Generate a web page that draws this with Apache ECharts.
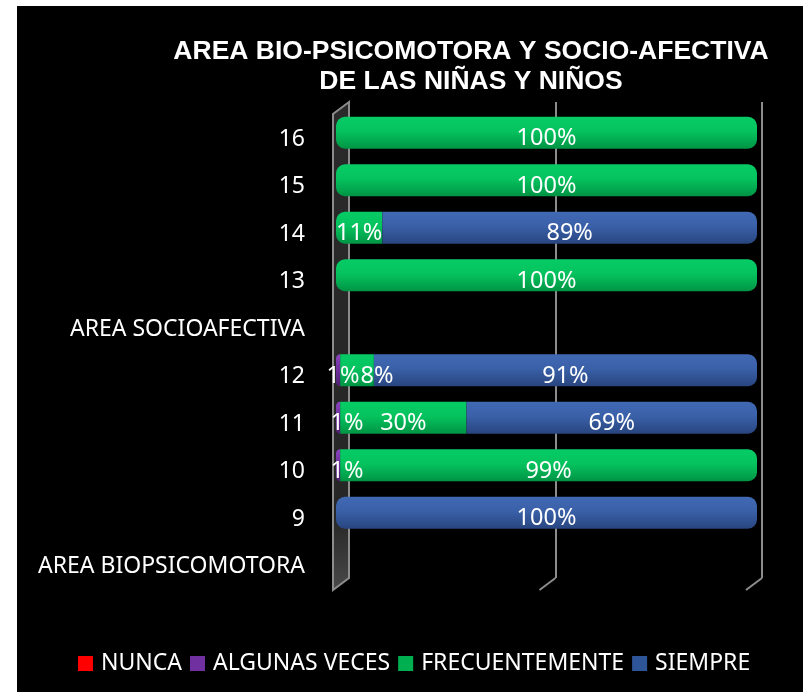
<!DOCTYPE html>
<html>
<head>
<meta charset="utf-8">
<script src="https://cdn.jsdelivr.net/npm/echarts@6/dist/echarts.min.js"></script>
<style>
  html, body { margin: 0; padding: 0; background: #fff; }
  #chart { position: absolute; left: 17px; top: 6px; width: 786px; height: 686px; background: #000; }
</style>
</head>
<body>
<div id="chart"></div>
<script>
// categories bottom -> top
const categories = ["AREA BIOPSICOMOTORA", "9", "10", "11", "12", "AREA SOCIOAFECTIVA", "13", "14", "15", "16"];
const nunca = [null, 0, 0, 0, 0, null, 0, 0, 0, 0];
const algunasVeces = [null, 0, 1, 1, 1, null, 0, 0, 0, 0];
const frecuentemente = [null, 0, 99, 30, 8, null, 100, 11, 100, 100];
const siempre = [null, 100, 0, 69, 91, null, 0, 89, 0, 0];
const xTicks = [0, 50, 100];

const seriesDefs = [
  { name: "NUNCA", data: nunca, legend: "#ff0000", top: "#ff3030", mid: "#ff0000", bot: "#b00000" },
  { name: "ALGUNAS VECES", data: algunasVeces, legend: "#7030a0", top: "#8a44be", mid: "#7030a0", bot: "#4e1f72" },
  { name: "FRECUENTEMENTE", data: frecuentemente, legend: "#00b050", top: "#06cc66", mid: "#05c35e", bot: "#009444" },
  { name: "SIEMPRE", data: siempre, legend: "#2e5597", top: "#4169b4", mid: "#3a60a8", bot: "#28457f" },
];

// rounded ends on first / last visible segment of every bar
function ends(i) {
  let first = -1, last = -1;
  seriesDefs.forEach((s, k) => {
    if (s.data[i] > 0) { if (first < 0) first = k; last = k; }
  });
  return [first, last];
}

const chart = echarts.init(document.getElementById("chart"));
const font = "'Noto Sans', sans-serif";
const fs = 23;

const series = seriesDefs.map((s, k) => ({
  name: s.name,
  type: "bar",
  stack: "total",
  xAxisIndex: 0,
  yAxisIndex: 0,
  barWidth: 32,
  z: 5,
  itemStyle: {
    color: new echarts.graphic.LinearGradient(0, 0, 0, 1, [
      { offset: 0, color: s.top },
      { offset: 0.45, color: s.mid },
      { offset: 1, color: s.bot },
    ]),
  },
  label: {
    show: true,
    position: "inside",
    color: "#fff",
    fontFamily: font,
    fontSize: 23.5,
    formatter: (p) => (p.value > 0 ? p.value + "%" : ""),
  },
  // labels sit a little low as in the 3D original; tiny segments get nudged apart
  labelLayout: (p) => {
    const i = p.dataIndex;
    let dx = 0;
    if (k === 1) dx = frecuentemente[i] > 0 && frecuentemente[i] < 15 ? 5 : 9;
    if (k === 2 && algunasVeces[i] > 0 && frecuentemente[i] < 15) dx = 20;
    return { dx: dx, dy: 6 };
  },
  data: s.data.map((v, i) => {
    const [first, last] = ends(i);
    const r = [k === first ? 9 : 0, k === last ? 9 : 0, k === last ? 9 : 0, k === first ? 9 : 0];
    return { value: v, itemStyle: { borderRadius: r } };
  }),
}));

chart.setOption({
  backgroundColor: "#000",
  animation: false,
  title: {
    text: "AREA BIO-PSICOMOTORA Y SOCIO-AFECTIVA\nDE LAS NIÑAS Y NIÑOS",
    left: 449,
    top: 26,
    textAlign: "center",
    textStyle: {
      color: "#fff",
      fontFamily: "'Liberation Sans', Arial, sans-serif",
      fontWeight: "bold",
      fontSize: 26.5,
      lineHeight: 30,
    },
  },
  legend: {
    top: 641,
    left: 56,
    icon: "rect",
    itemWidth: 15,
    itemHeight: 15,
    itemGap: 8,
    textStyle: { color: "#fff", fontFamily: font, fontSize: fs, padding: [0, 0, 0, 3] },
    data: seriesDefs.map((s) => ({ name: s.name, itemStyle: { color: s.legend } })),
  },
  grid: [
    { left: 319, right: 46, top: 103, height: 475 },
    { left: 332, right: 41, top: 96, height: 476 },
    { left: 319, right: 46, top: 109.5, height: 475 },
  ],
  xAxis: [
    { gridIndex: 0, type: "value", min: 0, max: 100, interval: 50, show: false },
    {
      gridIndex: 1, type: "value", min: xTicks[0], max: xTicks[xTicks.length - 1], interval: 50,
      axisLine: { show: false }, axisTick: { show: false }, axisLabel: { show: false },
      splitLine: { show: true, lineStyle: { color: "#8c8c8c", width: 2 } },
    },
    { gridIndex: 2, type: "value", min: 0, max: 100, show: false },
  ],
  yAxis: [
    { gridIndex: 0, type: "category", data: categories, show: false },
    { gridIndex: 1, type: "category", data: categories, show: false },
    {
      gridIndex: 2, type: "category", data: categories,
      axisLine: { show: false }, axisTick: { show: false }, splitLine: { show: false },
      axisLabel: { color: "#fff", fontFamily: font, fontSize: fs, margin: 31 },
    },
  ],
  series,
});

// 3D back wall and floor edges, placed from the axis scale
const px = (v) => chart.convertToPixel({ xAxisIndex: 1 }, v);
const wallTop = 96, wallBot = 572, depthX = 16, depthY = 12;
const x0 = px(0);
const graphics = [
  {
    type: "polygon", z: 1,
    shape: { points: [[x0, wallTop], [x0 - depthX, wallTop + depthY], [x0 - depthX, wallBot + depthY], [x0, wallBot]] },
    style: {
      fill: new echarts.graphic.LinearGradient(0, 0, 0, 1, [
        { offset: 0, color: "#2a2a2a" }, { offset: 0.85, color: "#262626" }, { offset: 1, color: "#4a4a4a" },
      ]),
      stroke: "#8c8c8c", lineWidth: 2,
    },
  },
];
xTicks.slice(1).forEach((v) => {
  graphics.push({
    type: "line", z: 1,
    shape: { x1: px(v), y1: wallBot, x2: px(v) - depthX, y2: wallBot + depthY },
    style: { stroke: "#8c8c8c", lineWidth: 2 },
  });
});
chart.setOption({ graphic: graphics });
</script>
</body>
</html>
